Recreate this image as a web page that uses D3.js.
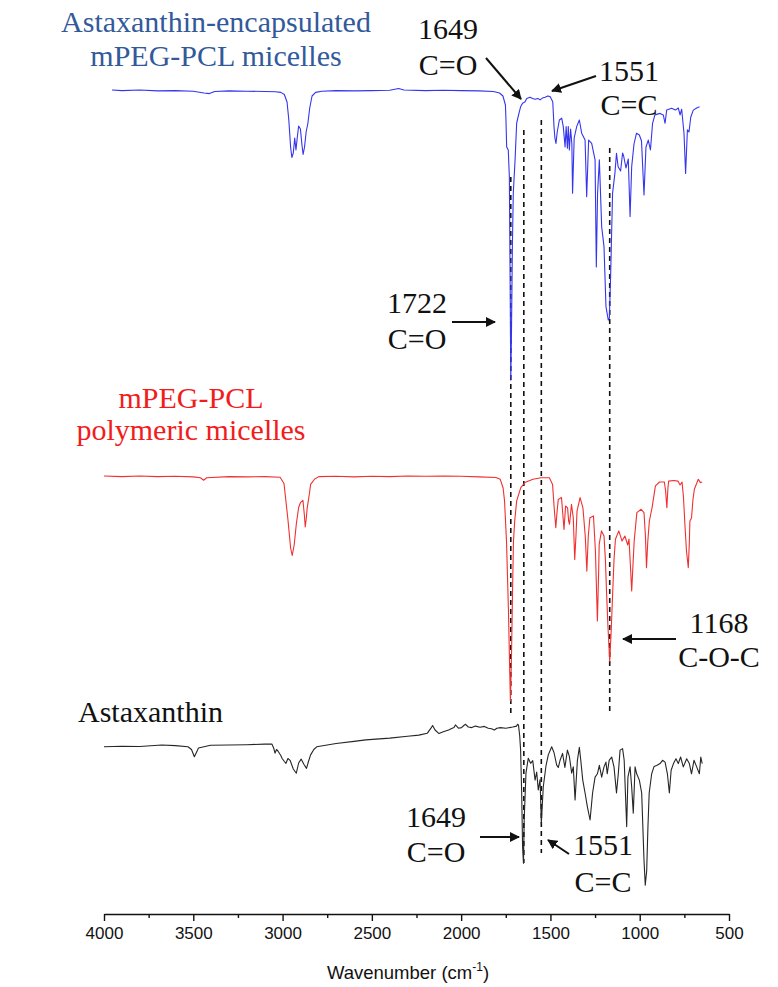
<!DOCTYPE html>
<html>
<head>
<meta charset="utf-8">
<script src="https://cdn.jsdelivr.net/npm/d3@7"></script>
<style>
  body { margin: 0; background: #fff; }
  svg { display: block; }
</style>
</head>
<body>
<div id="chart"></div>
<script>
// FTIR spectra, [wavenumber (cm-1), transmittance (a.u., 100 = own baseline)]
const blueSpectrum = [
  [3955,100],[3900,99.8],[3800,100],[3700,99.7],[3600,99.8],[3500,99.6],[3440,99],[3410,98.8],[3380,99.5],
  [3300,99.7],[3200,99.6],[3100,99.5],[3040,99.4],[3010,99.2],[2990,98.5],[2975,96],[2965,90],[2955,81],
  [2948,77.5],[2940,79],[2932,84],[2925,80],[2918,84],[2910,88],[2900,87],[2892,82],[2885,78.5],[2877,81],
  [2868,86],[2858,89],[2848,94],[2835,98],[2815,99.2],[2780,99.6],[2700,99.8],[2600,99.7],[2500,99.8],
  [2400,99.9],[2350,100.5],[2320,100],[2200,99.8],[2100,99.9],[2000,99.8],[1900,99.7],[1820,99.5],[1785,99],
  [1766,98],[1752,95],[1749,90],[1745,81],[1736,80],[1730,71],[1725,30],[1722,3.3],[1718,20],[1713,48],
  [1708,65.6],[1698,76.7],[1689,89],[1674,92.8],[1667,94.4],[1656,95.6],[1649,95.8],[1642,96.1],[1633,97.2],
  [1614,97.6],[1600,97.2],[1586,96.9],[1570,97.2],[1558,96.7],[1545,97.3],[1530,97.6],[1515,98],[1502,97.8],
  [1487,96.1],[1480,87.8],[1475,84],[1469,82.2],[1462,86],[1450,90],[1437,90.6],[1428,87.8],[1418,81],
  [1412,87.8],[1405,80.6],[1400,87.8],[1394,80],[1387,87],[1380,82],[1376,65.6],[1367,84],[1353,87.8],
  [1338,90],[1325,85.6],[1306,83.3],[1297,64.4],[1286,83.3],[1269,82.2],[1250,76.7],[1243,41],[1236,65.6],
  [1226,76.7],[1213,54.4],[1200,47.8],[1189,27.8],[1176,23.3],[1170,24],[1163,37.8],[1152,65.6],[1139,72.2],
  [1130,78.9],[1121,74.4],[1107,73],[1096,79],[1090,78],[1077,74],[1064,77],[1054,57.8],[1045,74.4],
  [1032,82],[1018,85.6],[1002,85],[990,83],[976,65],[965,81],[952,83.3],[940,80],[928,88.9],[915,91.7],
  [886,92.2],[868,91.7],[858,88.9],[849,93.3],[821,93.9],[800,93.3],[784,94],[774,91.7],[765,93.6],
  [752,85.6],[743,72.2],[733,86.7],[724,86],[714,91],[700,93.3],[681,94],[665,94.4]
];

const redSpectrum = [
  [4000,100],[3900,99.8],[3800,100],[3700,99.8],[3600,99.9],[3500,99.7],[3460,99.4],[3442,98.6],[3425,99.4],
  [3300,99.8],[3200,99.7],[3100,99.8],[3014,99.6],[2992,97.5],[2970,85.5],[2955,76],[2946,73.5],[2935,77],
  [2923,84],[2910,89.5],[2900,91.1],[2886,91.9],[2878,87],[2873,83],[2867,86],[2862,89.4],[2850,94],
  [2843,97.2],[2820,99],[2797,99.8],[2700,99.9],[2600,99.7],[2500,99.9],[2400,99.8],[2300,100],[2200,99.9],
  [2100,100],[2000,99.9],[1900,99.7],[1805,99.5],[1781,98.9],[1765,96],[1757,91.7],[1746,78.3],[1735,55],
  [1728,35],[1724,25],[1718,40],[1712,62],[1707,78.3],[1700,85],[1689,91.7],[1666,96.1],[1643,97.8],
  [1598,98.9],[1553,99.4],[1506,99.4],[1488,97.2],[1479,89.4],[1470,82.8],[1463,88],[1456,92.2],[1438,92.8],
  [1424,82.2],[1415,90],[1404,89.4],[1398,85],[1393,83.9],[1382,90.6],[1372,86],[1364,72.2],[1357,80],
  [1351,88.3],[1334,92.8],[1318,89.4],[1305,80],[1296,68.3],[1288,80],[1279,86.1],[1259,86.7],[1248,75],
  [1237,51.7],[1230,68],[1227,77.2],[1214,81.7],[1200,80],[1192,72],[1186,61.7],[1178,50],[1168,38.3],
  [1160,48],[1151,61.7],[1144,72],[1136,78.9],[1117,81.7],[1099,78.3],[1083,80],[1067,77],[1060,79],
  [1052,70],[1045,61.7],[1038,70],[1031,78.3],[1016,87.8],[992,88.9],[976,87.8],[968,80],[962,69.4],
  [955,78],[946,85],[931,89.4],[912,96.7],[889,98],[862,98],[855,95],[848,89.4],[842,96],[838,98.3],
  [809,98.5],[786,98.3],[774,97],[763,98],[755,93],[747,83.9],[738,75],[728,69.4],[722,78],[719,85],
  [710,86],[702,92],[694,95.6],[672,98.9],[660,97.8],[650,98]
];

const blackSpectrum = [
  [4000,93.4],[3900,93.6],[3800,93.5],[3677,94],[3600,93.8],[3530,93.4],[3510,92.5],[3494,90.1],[3480,91.8],
  [3471,93],[3403,93.9],[3300,94],[3200,94.1],[3100,94.3],[3060,94.3],[3050,93],[3042,91.3],[3034,92.5],
  [3026,92],[3010,90.5],[3003,89.6],[2990,88.5],[2981,87.9],[2970,89.5],[2958,88.9],[2940,86],[2923,84.6],
  [2910,88],[2896,89.3],[2880,87.5],[2866,86.2],[2855,88.5],[2843,90.7],[2825,92.5],[2809,93.4],[2700,94.5],
  [2600,95.2],[2534,95.7],[2400,96.3],[2300,96.9],[2237,97.3],[2190,97.9],[2169,99.6],[2160,100.5],[2146,99],
  [2124,97.8],[2100,98.4],[2070,99],[2056,99.4],[2040,99.8],[2032,100.7],[2015,99.6],[1998,99.8],[1985,100.5],
  [1975,100.9],[1960,100],[1940,99.8],[1920,100.3],[1894,99.9],[1870,100.2],[1848,99.6],[1830,99.4],[1814,99],
  [1800,99.6],[1780,99.8],[1750,99.6],[1711,100],[1690,100.3],[1684,100.9],[1679,100.7],[1672,97],[1667,92.3],
  [1661,78],[1656,60],[1651,54.6],[1647,69],[1637,84.6],[1624,89.6],[1611,87.9],[1599,88.8],[1586,82.3],
  [1577,85],[1568,79],[1558,82.5],[1551,67.9],[1540,80.1],[1525,87],[1512,90.7],[1493,93.4],[1480,91.5],
  [1465,87.3],[1456,86.5],[1446,88.9],[1432,91.2],[1419,86.5],[1405,92.3],[1394,90.2],[1381,84.6],[1372,86.7],
  [1362,75.7],[1349,88.9],[1338,93.2],[1330,88.9],[1319,82.3],[1306,78],[1293,73.4],[1278,69],[1264,78],
  [1250,83.3],[1237,84.4],[1226,87.2],[1213,83.3],[1200,86.7],[1189,88.3],[1182,84.4],[1171,88.9],[1157,90],
  [1144,86.7],[1130,78],[1120,84.4],[1110,92.3],[1096,92.8],[1087,88.9],[1073,66.8],[1066,83.3],[1054,86.7],
  [1045,80],[1036,71.3],[1026,86.7],[1017,84.4],[1002,82.3],[989,78],[976,55.7],[969,47.3],[961,52],
  [954,66.7],[947,78],[933,84.4],[920,86.8],[905,87.2],[886,87.8],[872,88.9],[858,88.3],[845,84.4],
  [834,78],[824,85.6],[811,87.8],[797,89.4],[784,87.8],[771,90],[756,86.7],[737,89.4],[722,87.8],
  [710,84.4],[696,88.9],[681,86.7],[666,84.4],[658,90],[650,87.8]
];

const majorTicks = [4000, 3500, 3000, 2500, 2000, 1500, 1000, 500];
const minorTicks = [3750, 3250, 2750, 2250, 1750, 1250, 750];
const guidePeaks = [1722, 1649, 1551, 1168];

// layout
const width = 778, height = 987;
const axisY = 914;

const svg = d3.select("#chart").append("svg")
  .attr("width", width).attr("height", height);

const x = d3.scaleLinear().domain([4000, 500]).range([104, 729]);
// 3 px per transmittance unit, each trace shifted to its own baseline
const yLocal = d3.scaleLinear().domain([0, 100]).range([300, 0]);

const traces = [
  { data: blueSpectrum, color: "#3535ee", offset: 90 },
  { data: redSpectrum, color: "#f03030", offset: 476 },
  { data: blackSpectrum, color: "#262626", offset: 727 }
];

const line = d3.line().x(d => x(d[0])).y(d => yLocal(d[1]));

// dashed guide lines (pixel extents)
const guideExtent = { 1722: [177, 717], 1649: [130, 863], 1551: [120, 853], 1168: [148, 713] };
svg.append("g").selectAll("line")
  .data(guidePeaks)
  .enter().append("line")
  .attr("x1", d => x(d)).attr("x2", d => x(d))
  .attr("y1", d => guideExtent[d][0]).attr("y2", d => guideExtent[d][1])
  .attr("stroke", "#111").attr("stroke-width", 1.6)
  .attr("stroke-dasharray", "5,4");

traces.forEach(t => {
  svg.append("g")
    .attr("transform", "translate(0," + t.offset + ")")
    .append("path")
    .datum(t.data)
    .attr("fill", "none")
    .attr("stroke", t.color)
    .attr("stroke-width", 1.1)
    .attr("stroke-linejoin", "round")
    .attr("d", line);
});

// axis
const axis = svg.append("g").attr("transform", "translate(0," + axisY + ")");
axis.call(d3.axisBottom(x).tickValues(majorTicks).tickFormat(d3.format("d"))
  .tickSize(7).tickSizeOuter(0).tickPadding(6));
axis.selectAll("text")
  .attr("font-family", "'Liberation Sans', Arial, sans-serif")
  .attr("font-size", 17).attr("fill", "#111");
axis.selectAll("line,path").attr("stroke", "#111").attr("stroke-width", 1.4);

const minor = svg.append("g").attr("transform", "translate(0," + axisY + ")");
minor.call(d3.axisBottom(x).tickValues(minorTicks).tickSize(4).tickFormat(""));
minor.select(".domain").remove();
minor.selectAll("line").attr("stroke", "#111").attr("stroke-width", 1.4);

const title = svg.append("text")
  .attr("x", 408).attr("y", 979)
  .attr("text-anchor", "middle")
  .attr("font-family", "'Liberation Sans', Arial, sans-serif")
  .attr("font-size", 18.5).attr("fill", "#111");
title.append("tspan").text("Wavenumber (cm");
title.append("tspan").attr("dy", -8).attr("font-size", 12).text("-1");
title.append("tspan").attr("dy", 8).text(")");

// series labels
const serif = "'Liberation Serif', 'Times New Roman', serif";
function label(lines, cx, y0, gap, color, anchor) {
  const t = svg.append("text")
    .attr("font-family", serif).attr("font-size", 30)
    .attr("fill", color).attr("text-anchor", anchor || "middle");
  lines.forEach((s, i) => {
    t.append("tspan").attr("x", cx).attr("y", y0 + i * gap).text(s);
  });
}
label(["Astaxanthin-encapsulated", "mPEG-PCL micelles"], 216, 32, 34, "#325a9a");
label(["mPEG-PCL", "polymeric micelles"], 191, 408, 32, "#f21c1c");
label(["Astaxanthin"], 78, 722, 0, "#111", "start");

// peak annotations
label(["1649", "C=O"], 448, 39, 36, "#111");
label(["1551", "C=C"], 629, 81, 34, "#111");
label(["1722", "C=O"], 417, 313, 36, "#111");
label(["1168", "C-O-C"], 719, 633, 34, "#111");
label(["1649", "C=O"], 436, 827, 35, "#111");
label(["1551", "C=C"], 603, 855, 37, "#111");

svg.append("defs").append("marker")
  .attr("id", "head").attr("viewBox", "0 0 10 10")
  .attr("refX", 9).attr("refY", 5)
  .attr("markerWidth", 5).attr("markerHeight", 5)
  .attr("orient", "auto")
  .append("path").attr("d", "M0,0 L10,5 L0,10 Z").attr("fill", "#111");

const arrows = [
  [486, 58, 521, 99],
  [596, 76, 552, 91],
  [452, 322, 495, 322],
  [676, 639, 623, 639],
  [480, 837, 519, 837],
  [569, 854, 548, 840]
];
svg.append("g").selectAll("line")
  .data(arrows)
  .enter().append("line")
  .attr("x1", d => d[0]).attr("y1", d => d[1])
  .attr("x2", d => d[2]).attr("y2", d => d[3])
  .attr("stroke", "#111").attr("stroke-width", 2)
  .attr("marker-end", "url(#head)");
</script>
</body>
</html>
